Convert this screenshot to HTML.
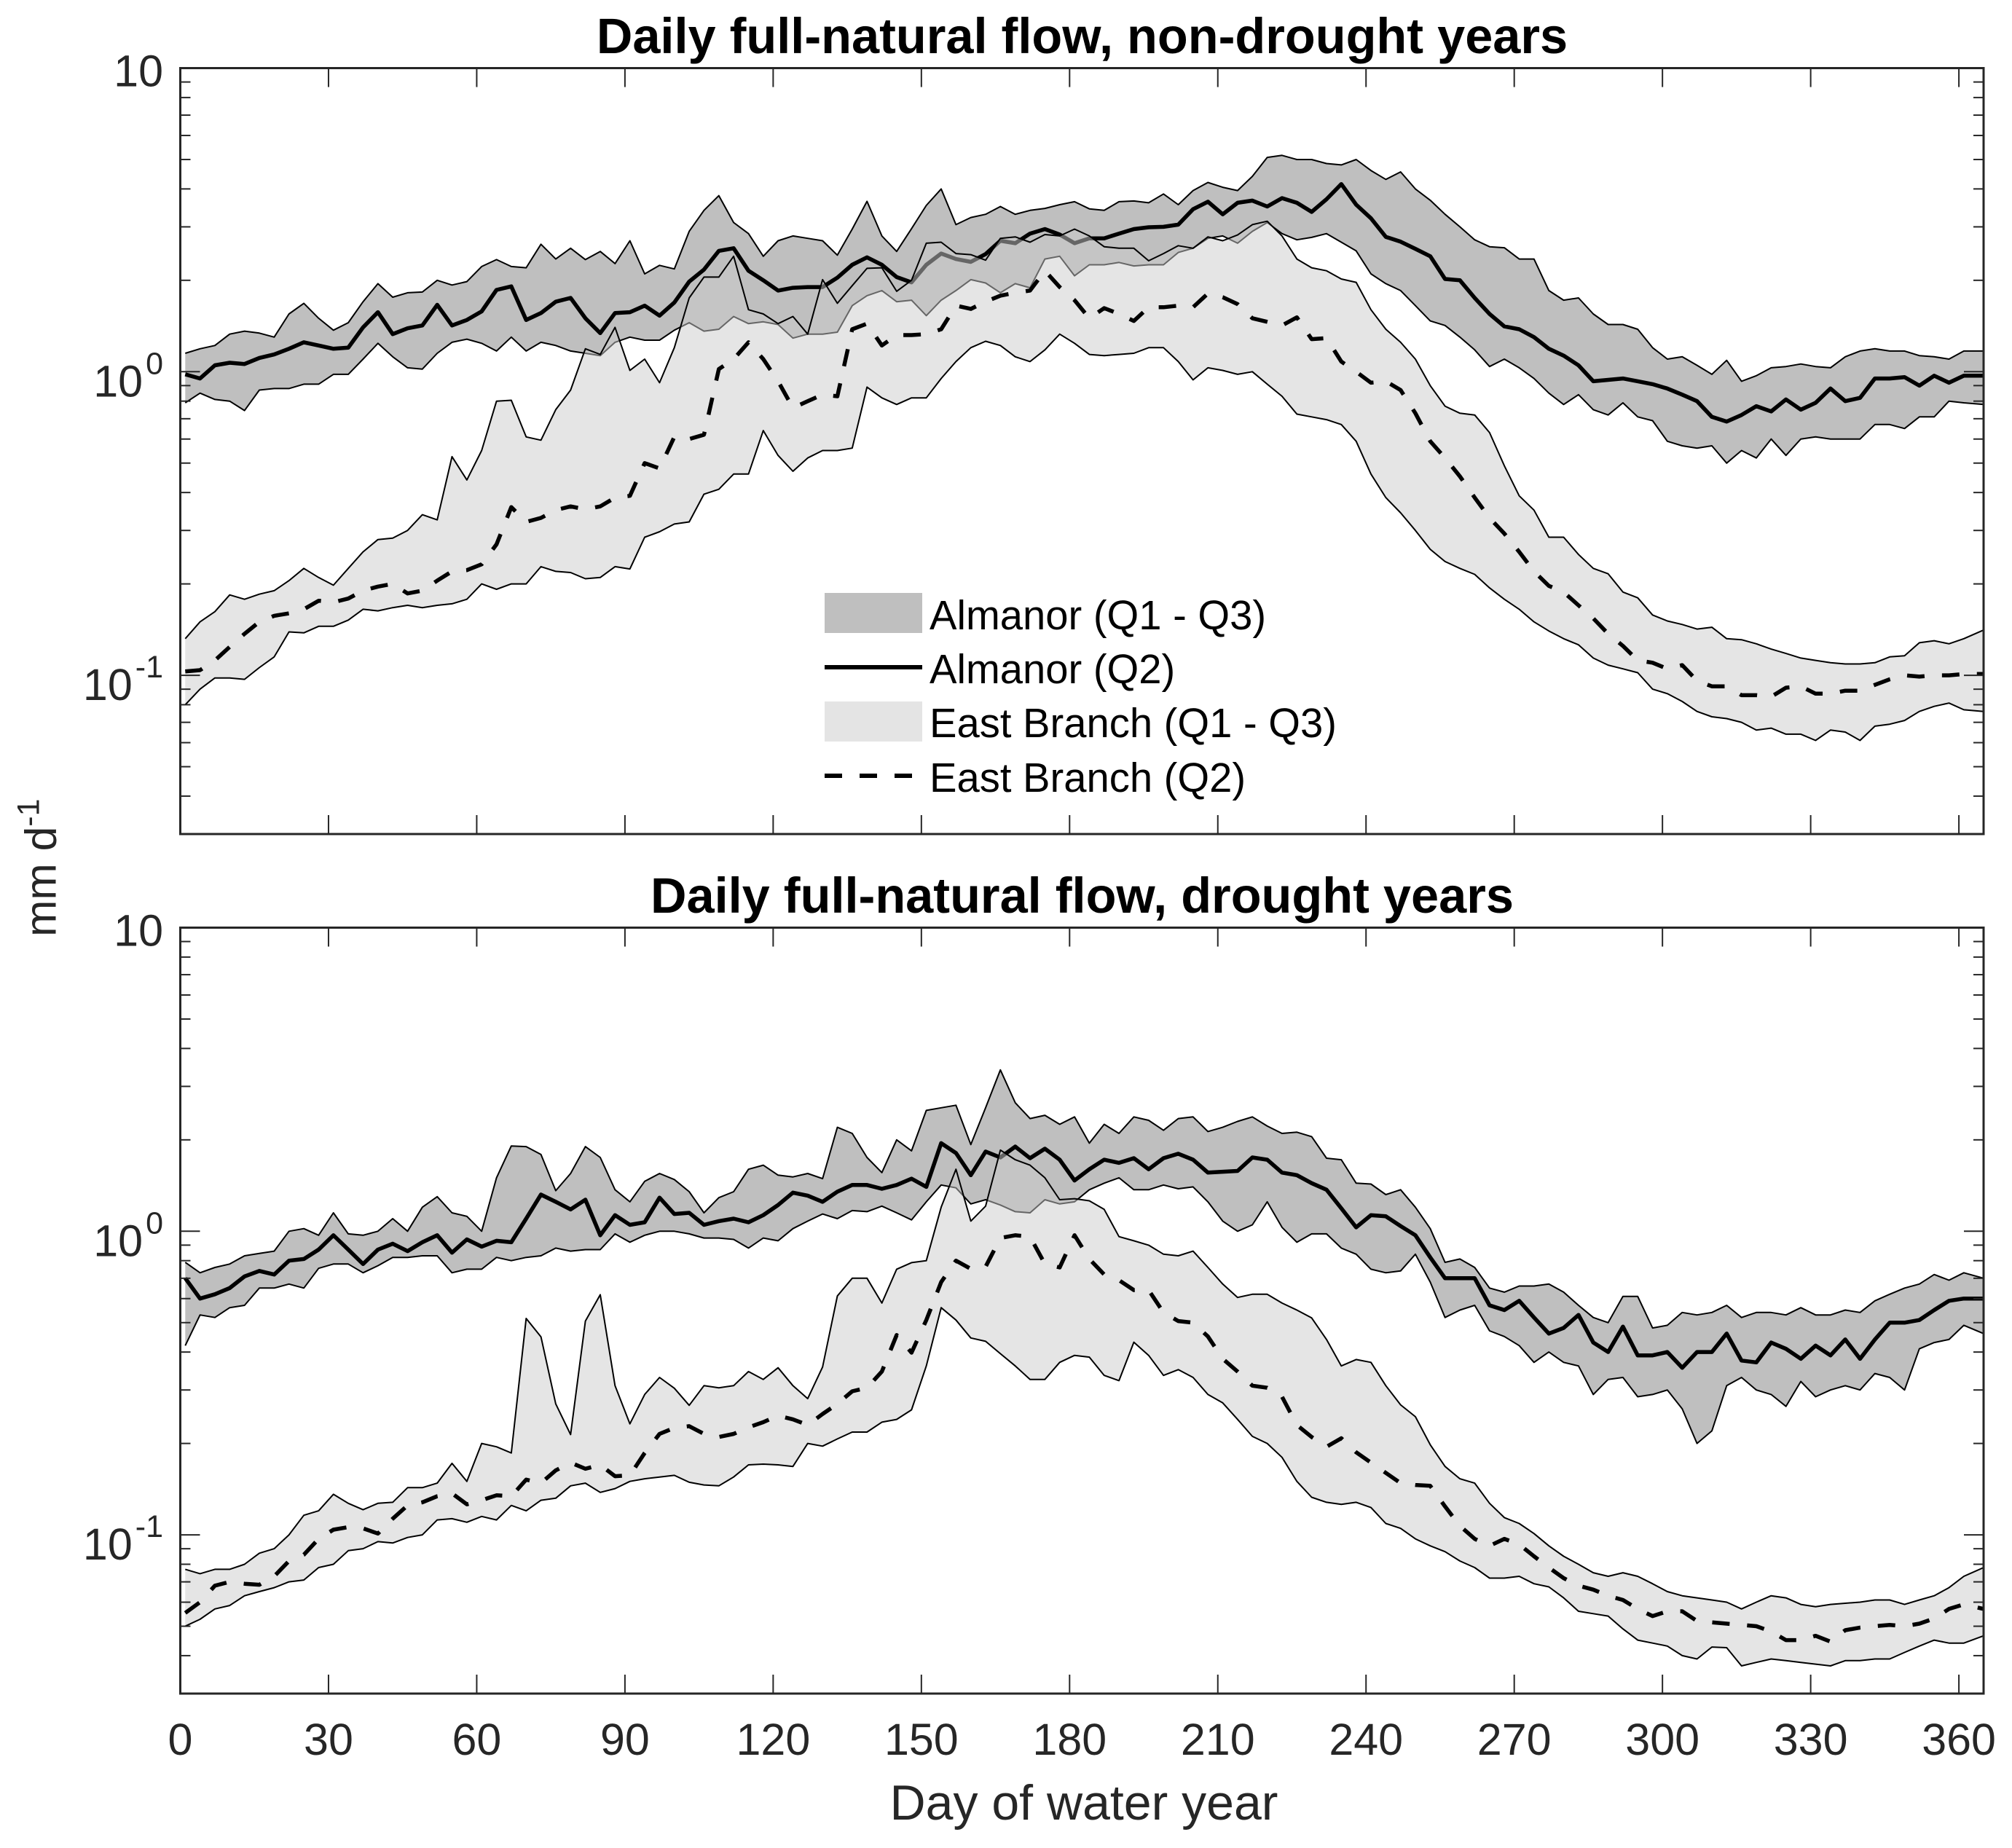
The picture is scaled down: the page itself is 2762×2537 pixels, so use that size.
<!DOCTYPE html>
<html lang="en">
<head>
<meta charset="utf-8">
<title>Daily full-natural flow</title>
<style>
html,body{margin:0;padding:0;background:#fff;}
svg{display:block;font-family:"Liberation Sans",Arial,sans-serif;}
</style>
</head>
<body>
<svg id="chart" xmlns="http://www.w3.org/2000/svg" width="2762" height="2537" viewBox="0 0 2762 2537">
  <rect x="0" y="0" width="2762" height="2537" fill="#fff"/>
  <g id="panel-top"></g>
  <g id="panel-bottom"></g>
  <text x="1485.5" y="73" font-size="68.5" font-weight="700" text-anchor="middle" fill="#000">Daily full-natural flow, non-drought years</text>
  <text x="1485.5" y="1253" font-size="68.5" font-weight="700" text-anchor="middle" fill="#000">Daily full-natural flow, drought years</text>
  <text x="1488" y="2498" font-size="68" text-anchor="middle" fill="#262626">Day of water year</text>
  <text transform="translate(76.5,1286) rotate(-90)" font-size="60.5" fill="#262626">mm d<tspan dy="-23" font-size="43">-1</tspan></text>
  <g>
    <rect x="1132" y="814" width="134" height="55" fill="#bfbfbf"/>
    <line x1="1132" y1="916" x2="1266" y2="916" stroke="#000" stroke-width="6"/>
    <rect x="1132" y="963" width="134" height="55" fill="#e4e4e4"/>
    <line x1="1132" y1="1065" x2="1254" y2="1065" stroke="#000" stroke-width="6" stroke-dasharray="24 24"/>
    <text x="1276" y="864" font-size="56.2" fill="#000">Almanor (Q1 - Q3)</text>
    <text x="1276" y="938" font-size="56.2" fill="#000">Almanor (Q2)</text>
    <text x="1276" y="1012" font-size="56.2" fill="#000">East Branch (Q1 - Q3)</text>
    <text x="1276" y="1087" font-size="56.2" fill="#000">East Branch (Q2)</text>
  </g>
</svg>
<script>
const days = [
1,4,7,10,13,16,19,22,25,28,
31,34,37,40,43,46,49,52,55,58,
61,64,67,70,73,76,79,82,85,88,
91,94,97,100,103,106,109,112,115,118,
121,124,127,130,133,136,139,142,145,148,
151,154,157,160,163,166,169,172,175,178,
181,184,187,190,193,196,199,202,205,208,
211,214,217,220,223,226,229,232,235,238,
241,244,247,250,253,256,259,262,265,268,
271,274,277,280,283,286,289,292,295,298,
301,304,307,310,313,316,319,322,325,328,
331,334,337,340,343,346,349,352,355,358,
361,365];

const xTickValues = [0,30,60,90,120,150,180,210,240,270,300,330,360];
const xTickLabels = ['0','30','60','90','120','150','180','210','240','270','300','330','360'];
const yMajorValues = [10,1,0.1];
const yMajorBases = ['10','10','10'];
const yMajorExponents = ['','0','-1'];
const yMinorValues = [9,8,7,6,5,4,3,2,0.9,0.8,0.7,0.6,0.5,0.4,0.3,0.2,0.09,0.08,0.07,0.06,0.05,0.04];

/* Non-drought years, mm per day */
const topAlmanorQ3 = [
1.15,1.19,1.22,1.33,1.36,1.34,1.3,1.55,1.68,1.5,
1.37,1.45,1.7,1.95,1.76,1.82,1.83,2.0,1.93,1.98,
2.22,2.34,2.22,2.2,2.63,2.35,2.55,2.34,2.49,2.27,
2.7,2.1,2.24,2.18,2.9,3.4,3.8,3.1,2.85,2.4,
2.7,2.8,2.75,2.7,2.42,2.95,3.64,2.8,2.49,2.96,
3.53,4.0,3.05,3.22,3.3,3.5,3.3,3.4,3.45,3.55,
3.63,3.44,3.4,3.63,3.65,3.6,3.85,3.55,3.95,4.2,
4.05,3.95,4.4,5.08,5.16,5.0,5.0,4.85,4.8,5.0,
4.6,4.3,4.55,4.0,3.67,3.3,3.0,2.72,2.58,2.56,
2.35,2.35,1.85,1.72,1.75,1.55,1.43,1.43,1.38,1.2,
1.1,1.12,1.05,0.98,1.09,0.93,0.97,1.03,1.04,1.06,
1.04,1.03,1.12,1.17,1.19,1.17,1.17,1.13,1.12,1.1,
1.17,1.17];
const topAlmanorQ2 = [
0.98,0.95,1.05,1.07,1.06,1.11,1.14,1.19,1.25,1.22,
1.19,1.2,1.4,1.57,1.33,1.39,1.42,1.66,1.42,1.48,
1.58,1.86,1.91,1.48,1.56,1.7,1.75,1.5,1.34,1.56,
1.57,1.65,1.53,1.69,1.98,2.17,2.5,2.55,2.15,2.0,
1.85,1.89,1.9,1.9,2.04,2.25,2.38,2.25,2.05,1.97,
2.25,2.45,2.35,2.3,2.44,2.7,2.65,2.85,2.95,2.83,
2.65,2.75,2.75,2.85,2.95,2.99,3.0,3.05,3.43,3.63,
3.3,3.6,3.66,3.5,3.73,3.6,3.36,3.7,4.15,3.55,
3.2,2.78,2.68,2.54,2.4,2.02,2.0,1.75,1.55,1.41,
1.38,1.3,1.19,1.13,1.05,0.93,0.94,0.95,0.93,0.91,
0.88,0.84,0.8,0.71,0.685,0.72,0.77,0.74,0.81,0.75,
0.79,0.88,0.8,0.82,0.95,0.95,0.96,0.9,0.97,0.92,
0.97,0.97];
const topAlmanorQ1 = [
0.79,0.85,0.81,0.8,0.745,0.87,0.88,0.88,0.91,0.91,
0.98,0.98,1.1,1.24,1.12,1.03,1.02,1.15,1.25,1.28,
1.24,1.17,1.3,1.17,1.25,1.22,1.17,1.15,1.13,1.25,
1.3,1.27,1.27,1.37,1.45,1.36,1.38,1.52,1.44,1.46,
1.43,1.29,1.33,1.33,1.35,1.65,1.78,1.85,1.7,1.72,
1.53,1.72,1.85,2.01,1.96,1.82,1.95,1.89,2.35,2.4,
2.07,2.25,2.25,2.29,2.23,2.25,2.25,2.47,2.55,2.75,
2.8,2.65,2.9,3.1,2.85,2.72,2.77,2.85,2.67,2.5,
2.1,1.95,1.85,1.65,1.47,1.42,1.3,1.18,1.04,1.1,
1.03,0.95,0.85,0.78,0.84,0.75,0.72,0.79,0.71,0.69,
0.59,0.57,0.56,0.57,0.5,0.55,0.52,0.6,0.53,0.6,
0.61,0.6,0.6,0.6,0.67,0.67,0.65,0.71,0.71,0.8,
0.79,0.78];
const topEastQ3 = [
0.132,0.15,0.162,0.184,0.178,0.185,0.19,0.205,0.225,0.21,
0.198,0.225,0.255,0.28,0.283,0.3,0.338,0.325,0.525,0.44,
0.55,0.8,0.805,0.61,0.595,0.75,0.87,1.19,1.14,1.4,
1.01,1.1,0.92,1.2,1.75,2.05,2.05,2.4,1.6,1.55,
1.44,1.52,1.33,2.01,1.68,1.92,2.19,2.2,1.84,2.0,
2.65,2.67,2.45,2.43,2.33,2.75,2.78,2.67,2.83,2.8,
2.95,2.8,2.58,2.55,2.55,2.32,2.45,2.6,2.55,2.78,
2.7,2.82,3.05,3.13,2.8,2.35,2.2,2.15,2.02,1.97,
1.6,1.38,1.25,1.1,0.9,0.77,0.73,0.72,0.63,0.49,
0.39,0.35,0.285,0.285,0.25,0.225,0.216,0.188,0.18,0.158,
0.151,0.147,0.142,0.144,0.132,0.131,0.127,0.122,0.118,0.114,
0.112,0.11,0.109,0.109,0.11,0.115,0.116,0.128,0.13,0.127,
0.132,0.141];
const topEastQ2 = [
0.103,0.104,0.112,0.124,0.137,0.15,0.157,0.16,0.165,0.176,
0.174,0.179,0.19,0.196,0.2,0.186,0.19,0.205,0.22,0.222,
0.232,0.27,0.358,0.32,0.33,0.35,0.36,0.352,0.36,0.385,
0.39,0.5,0.48,0.61,0.6,0.62,1.02,1.1,1.25,1.1,
0.93,0.76,0.8,0.84,0.83,1.38,1.44,1.22,1.32,1.32,
1.33,1.38,1.65,1.61,1.7,1.78,1.82,1.85,2.15,1.9,
1.72,1.5,1.62,1.55,1.47,1.63,1.63,1.65,1.63,1.81,
1.76,1.67,1.5,1.46,1.42,1.51,1.28,1.29,1.08,1.0,
0.92,0.93,0.87,0.73,0.59,0.52,0.452,0.385,0.33,0.293,
0.255,0.22,0.197,0.188,0.17,0.154,0.137,0.125,0.112,0.11,
0.105,0.108,0.096,0.092,0.092,0.086,0.086,0.085,0.091,0.092,
0.087,0.087,0.089,0.089,0.093,0.097,0.1,0.099,0.1,0.1,
0.101,0.101];
const topEastQ1 = [
0.08,0.09,0.098,0.098,0.097,0.106,0.115,0.139,0.138,0.145,
0.145,0.152,0.165,0.163,0.167,0.17,0.167,0.17,0.172,0.178,
0.2,0.192,0.2,0.2,0.228,0.22,0.218,0.208,0.21,0.228,
0.224,0.285,0.297,0.315,0.32,0.395,0.41,0.46,0.46,0.64,
0.53,0.47,0.52,0.55,0.55,0.56,0.89,0.82,0.78,0.82,
0.82,0.95,1.08,1.2,1.26,1.22,1.12,1.08,1.18,1.33,
1.24,1.14,1.13,1.14,1.15,1.2,1.2,1.08,0.94,1.03,
1.01,0.98,1.0,0.91,0.83,0.725,0.71,0.695,0.67,0.59,
0.46,0.385,0.343,0.3,0.26,0.237,0.225,0.215,0.194,0.178,
0.165,0.15,0.14,0.132,0.126,0.114,0.108,0.105,0.102,0.09,
0.087,0.082,0.076,0.073,0.072,0.07,0.066,0.067,0.064,0.064,
0.061,0.066,0.065,0.061,0.068,0.069,0.071,0.076,0.079,0.081,
0.077,0.076];

/* Drought years, mm per day */
const bottomAlmanorQ3 = [
0.79,0.73,0.76,0.78,0.83,0.845,0.86,1.0,1.02,0.97,
1.15,0.98,0.97,1.0,1.1,1.0,1.2,1.3,1.15,1.12,
1.0,1.5,1.91,1.9,1.79,1.36,1.55,1.9,1.75,1.37,
1.25,1.46,1.55,1.48,1.35,1.15,1.29,1.35,1.6,1.65,
1.53,1.51,1.55,1.49,2.2,2.1,1.75,1.56,2.0,1.84,
2.5,2.55,2.6,1.93,2.55,3.4,2.65,2.35,2.41,2.25,
2.38,1.95,2.25,2.1,2.38,2.32,2.15,2.35,2.38,2.13,
2.2,2.3,2.38,2.22,2.1,2.12,2.05,1.74,1.72,1.44,
1.43,1.32,1.37,1.2,1.02,0.79,0.81,0.76,0.65,0.63,
0.66,0.66,0.67,0.63,0.57,0.52,0.5,0.61,0.61,0.48,
0.49,0.54,0.53,0.54,0.57,0.52,0.54,0.54,0.53,0.56,
0.53,0.53,0.55,0.54,0.59,0.62,0.65,0.67,0.72,0.69,
0.73,0.7];
const bottomAlmanorQ2 = [
0.7,0.6,0.62,0.65,0.71,0.74,0.72,0.8,0.81,0.87,
0.97,0.87,0.78,0.87,0.91,0.86,0.92,0.97,0.85,0.94,
0.89,0.93,0.92,1.1,1.32,1.25,1.18,1.27,0.97,1.13,
1.05,1.07,1.29,1.14,1.15,1.05,1.08,1.1,1.07,1.13,
1.22,1.34,1.31,1.25,1.35,1.42,1.42,1.38,1.42,1.49,
1.4,1.95,1.81,1.53,1.83,1.75,1.9,1.74,1.87,1.72,
1.47,1.6,1.72,1.68,1.74,1.6,1.74,1.8,1.72,1.56,
1.57,1.58,1.75,1.72,1.56,1.53,1.44,1.37,1.19,1.03,
1.13,1.12,1.04,0.97,0.82,0.7,0.7,0.7,0.57,0.55,
0.59,0.52,0.46,0.48,0.53,0.43,0.4,0.485,0.39,0.39,
0.4,0.355,0.4,0.4,0.46,0.375,0.37,0.43,0.41,0.38,
0.42,0.39,0.44,0.38,0.44,0.5,0.5,0.51,0.55,0.59,
0.6,0.6];
const bottomAlmanorQ1 = [
0.42,0.53,0.52,0.56,0.57,0.65,0.65,0.67,0.65,0.755,
0.78,0.78,0.73,0.77,0.82,0.82,0.83,0.83,0.73,0.75,
0.75,0.82,0.8,0.82,0.83,0.88,0.86,0.87,0.87,0.98,
0.92,0.97,1.0,1.0,0.98,0.95,0.95,0.94,0.88,0.95,
0.93,1.02,1.08,1.14,1.1,1.17,1.16,1.21,1.15,1.09,
1.25,1.42,1.39,1.23,1.27,1.22,1.16,1.15,1.27,1.23,
1.25,1.37,1.44,1.5,1.37,1.37,1.42,1.38,1.4,1.25,
1.08,1.0,1.05,1.25,1.03,0.92,0.98,0.98,0.88,0.84,
0.75,0.73,0.74,0.84,0.68,0.52,0.55,0.57,0.47,0.45,
0.42,0.37,0.4,0.37,0.36,0.29,0.325,0.33,0.285,0.29,
0.3,0.26,0.2,0.22,0.31,0.33,0.3,0.29,0.265,0.32,
0.285,0.3,0.31,0.3,0.34,0.33,0.3,0.41,0.43,0.44,
0.49,0.46];
const bottomEastQ3 = [
0.077,0.0745,0.077,0.077,0.08,0.087,0.09,0.1,0.116,0.12,
0.136,0.127,0.121,0.127,0.128,0.143,0.143,0.148,0.172,0.15,
0.2,0.195,0.186,0.516,0.449,0.27,0.214,0.506,0.618,0.31,
0.232,0.29,0.33,0.304,0.267,0.31,0.305,0.31,0.345,0.325,
0.355,0.31,0.281,0.357,0.612,0.7,0.7,0.58,0.75,0.788,
0.8,1.2,1.6,1.08,1.21,1.85,1.72,1.65,1.5,1.27,
1.28,1.26,1.18,0.96,0.93,0.9,0.84,0.83,0.86,0.76,
0.67,0.605,0.62,0.62,0.58,0.55,0.518,0.44,0.36,0.378,
0.37,0.31,0.268,0.245,0.198,0.168,0.153,0.148,0.127,0.114,
0.109,0.101,0.092,0.085,0.08,0.075,0.073,0.075,0.073,0.069,
0.065,0.063,0.062,0.061,0.06,0.057,0.06,0.063,0.062,0.059,
0.058,0.059,0.0595,0.06,0.061,0.061,0.059,0.061,0.063,0.067,
0.073,0.078];
const bottomEastQ2 = [
0.0553,0.06,0.068,0.07,0.069,0.0685,0.073,0.082,0.086,0.097,
0.104,0.106,0.105,0.101,0.113,0.125,0.128,0.134,0.137,0.126,
0.13,0.135,0.134,0.152,0.148,0.163,0.173,0.165,0.17,0.156,
0.157,0.186,0.215,0.225,0.228,0.215,0.21,0.215,0.226,0.235,
0.247,0.24,0.23,0.25,0.27,0.297,0.305,0.345,0.455,0.398,
0.51,0.68,0.8,0.752,0.764,0.95,0.97,0.96,0.78,0.76,
0.97,0.81,0.72,0.69,0.64,0.64,0.54,0.506,0.5,0.45,
0.38,0.345,0.31,0.305,0.285,0.23,0.21,0.195,0.208,0.187,
0.173,0.16,0.148,0.146,0.145,0.124,0.107,0.097,0.092,0.097,
0.093,0.085,0.078,0.072,0.068,0.066,0.063,0.061,0.057,0.054,
0.056,0.056,0.052,0.0515,0.051,0.0505,0.05,0.048,0.045,0.045,
0.0465,0.0445,0.0485,0.0495,0.05,0.0505,0.05,0.051,0.053,0.057,
0.059,0.057];
const bottomEastQ1 = [
0.05,0.0527,0.057,0.0585,0.063,0.065,0.067,0.07,0.071,0.078,
0.08,0.0887,0.09,0.095,0.094,0.098,0.1,0.112,0.113,0.11,
0.115,0.112,0.125,0.12,0.13,0.132,0.145,0.148,0.138,0.142,
0.15,0.153,0.155,0.157,0.149,0.146,0.145,0.155,0.17,0.171,
0.17,0.168,0.2,0.196,0.207,0.218,0.218,0.235,0.24,0.258,
0.36,0.56,0.51,0.445,0.434,0.395,0.36,0.325,0.325,0.37,
0.39,0.385,0.335,0.322,0.431,0.39,0.335,0.35,0.33,0.29,
0.272,0.24,0.211,0.2,0.18,0.15,0.133,0.128,0.126,0.128,
0.123,0.109,0.105,0.097,0.092,0.088,0.082,0.078,0.072,0.072,
0.073,0.069,0.0674,0.062,0.056,0.055,0.054,0.049,0.045,0.044,
0.043,0.04,0.039,0.0427,0.0425,0.037,0.038,0.039,0.0385,0.038,
0.0375,0.037,0.0385,0.0385,0.039,0.039,0.041,0.043,0.045,0.044,
0.044,0.0465];

const SVGNS = 'http://www.w3.org/2000/svg';
const AXIS_LEFT = 247.5, AXIS_RIGHT = 2723, X_MIN = 0, X_MAX = 365, Y_MIN = 0.03, Y_MAX = 10;
const AXIS_COLOR = '#262626';

function xScale(day) {
  return AXIS_LEFT + (day - X_MIN) / (X_MAX - X_MIN) * (AXIS_RIGHT - AXIS_LEFT);
}
function yScale(value, top, bottom) {
  return top + (Math.log10(Y_MAX) - Math.log10(value)) / (Math.log10(Y_MAX) - Math.log10(Y_MIN)) * (bottom - top);
}
function make(tag, parent, attrs) {
  const el = document.createElementNS(SVGNS, tag);
  for (const k in attrs) el.setAttribute(k, attrs[k]);
  parent.appendChild(el);
  return el;
}
function linePath(values, top, bottom) {
  return values.map((v, i) => (i ? 'L' : 'M') + xScale(days[i]).toFixed(1) + ' ' + yScale(v, top, bottom).toFixed(1)).join('');
}
function bandPath(upper, lower, top, bottom) {
  const back = lower.map((v, i) => 'L' + xScale(days[i]).toFixed(1) + ' ' + yScale(v, top, bottom).toFixed(1)).reverse().join('');
  return linePath(upper, top, bottom) + back + 'Z';
}
function tickLine(parent, x1, y1, x2, y2, width) {
  const t = make('line', parent, { x1: x1, y1: y1, x2: x2, y2: y2, stroke: AXIS_COLOR, 'stroke-width': width });
  
  
}

function drawSeries(group, top, bottom, prefix, q1, q2, q3, style) {
  const band = make('path', group, { d: bandPath(q3, q1, top, bottom), fill: style.fill, 'fill-opacity': style.alpha, stroke: 'none' });
  
  
  const upper = make('path', group, { d: linePath(q3, top, bottom), fill: 'none', stroke: '#000', 'stroke-width': 2, 'stroke-linejoin': 'round' });
  
  
  const lower = make('path', group, { d: linePath(q1, top, bottom), fill: 'none', stroke: '#000', 'stroke-width': 2, 'stroke-linejoin': 'round' });
  
  
  const median = make('path', group, { d: linePath(q2, top, bottom), fill: 'none', stroke: '#000', 'stroke-width': 5.5, 'stroke-linejoin': 'round', 'stroke-dasharray': style.dash });
  
  
}

function drawAxes(group, top, bottom, showXLabels) {
  const box = make('rect', group, { x: AXIS_LEFT, y: top, width: AXIS_RIGHT - AXIS_LEFT, height: bottom - top, fill: 'none', stroke: AXIS_COLOR, 'stroke-width': 3 });
  
  
  xTickValues.forEach((d, i) => {
    const x = xScale(d);
    tickLine(group, x, bottom, x, bottom - 26, 2);
    tickLine(group, x, top, x, top + 26, 2);
    if (showXLabels) {
      const t = make('text', group, { x: x, y: 2409, 'font-size': 61, 'text-anchor': 'middle', fill: AXIS_COLOR });
      t.textContent = xTickLabels[i];
      
      
    }
  });
  yMinorValues.forEach(v => {
    const y = yScale(v, top, bottom);
    tickLine(group, AXIS_LEFT, y, AXIS_LEFT + 14, y, 2);
    tickLine(group, AXIS_RIGHT, y, AXIS_RIGHT - 14, y, 2);
  });
  yMajorValues.forEach((v, i) => {
    const y = yScale(v, top, bottom);
    if (i > 0) {
      tickLine(group, AXIS_LEFT, y, AXIS_LEFT + 27, y, 2);
      tickLine(group, AXIS_RIGHT, y, AXIS_RIGHT - 27, y, 2);
    }
    const exp = yMajorExponents[i];
    const label = make('text', group, { x: 224, y: exp ? y + 34 : y + 25, 'font-size': 61, 'text-anchor': 'end', fill: AXIS_COLOR });
    
    
    label.appendChild(document.createTextNode(yMajorBases[i]));
    if (exp) {
      const sup = make('tspan', label, { dy: -31, dx: 4, 'font-size': 43 });
      sup.textContent = exp;
    }
  });
}

function drawPanel(id, top, bottom, aQ1, aQ2, aQ3, eQ1, eQ2, eQ3, showXLabels) {
  const g = document.getElementById(id);
  drawSeries(g, top, bottom, 'almanor', aQ1, aQ2, aQ3, { fill: '#bfbfbf', alpha: 1, dash: 'none' });
  drawSeries(g, top, bottom, 'east-branch', eQ1, eQ2, eQ3, { fill: '#cccccc', alpha: 0.5, dash: '24 24' });
  drawAxes(g, top, bottom, showXLabels);
}

drawPanel('panel-top', 93.5, 1145, topAlmanorQ1, topAlmanorQ2, topAlmanorQ3, topEastQ1, topEastQ2, topEastQ3, false);
drawPanel('panel-bottom', 1273.5, 2325, bottomAlmanorQ1, bottomAlmanorQ2, bottomAlmanorQ3, bottomEastQ1, bottomEastQ2, bottomEastQ3, true);
</script>
</body>
</html>
